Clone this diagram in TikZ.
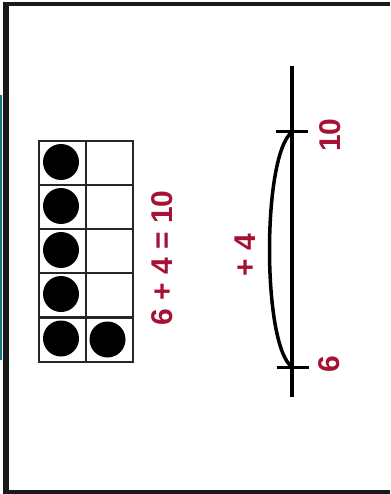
\documentclass[tikz,border=0pt]{standalone}
\usepackage{fontspec}
\setmainfont{Liberation Sans}
\definecolor{numred}{RGB}{165,18,52}
\definecolor{edgeteal}{RGB}{20,120,125}
\begin{document}
\begin{tikzpicture}[x=1pt,y=-1pt,
  cellbox/.style={draw=black!85,line width=2pt,minimum width=47pt,minimum height=44pt,inner sep=0pt,outer sep=0pt},
  counter/.style={circle,fill=black,minimum size=36pt,inner sep=0pt},
  redlabel/.style={text=numred,font=\bfseries\fontsize{30}{30}\selectfont,rotate=90,inner sep=0pt},
  numline/.style={line width=3.5pt,black},
  tickmark/.style={line width=3pt,black}]
\useasboundingbox (0,0) rectangle (390,494);
% frame
\fill[black!90] (3,2) rectangle (9.3,494);
\fill[black!90] (3,2) rectangle (390,6.5);
\fill[black!90] (3,490) rectangle (390,494);
\fill[edgeteal] (0,95) rectangle (1.7,360);
% ten frame
\foreach \r/\y in {1/163,2/207,3/251,4/295,5/339.5}{
  \node[cellbox] (L\r) at (62.5,\y) {};
  \node[cellbox] (R\r) at (109.5,\y) {};
}
\foreach \r in {1,...,5}{
  \node[counter] (dL\r) at ([xshift=-1.5pt,yshift=1pt]L\r.center) {};
}
\node[counter] (dR5) at ([xshift=-2pt,yshift=0pt]R5.center) {};
% equation
\node[redlabel] (eq) at (162,258) {6 + 4 = 10};
% number line
\coordinate (top) at (292,66);
\coordinate (bot) at (292,397);
\coordinate (p10) at (292,132);
\coordinate (p6) at (292,367);
\draw[numline] (top) -- (bot);
\draw[tickmark] ([xshift=-16pt]p10) -- ([xshift=16pt]p10);
\draw[tickmark] ([xshift=-15pt]p6) -- ([xshift=17pt]p6);
\draw[line width=3.5pt] (p6) .. controls (262,345) and (262,155) .. (p10);
\node[redlabel] (l10) at (330,135) {10};
\node[redlabel] (l6) at (329,364) {6};
\node[redlabel] (plus) at (245,255) {+ 4};
\end{tikzpicture}
\end{document}
